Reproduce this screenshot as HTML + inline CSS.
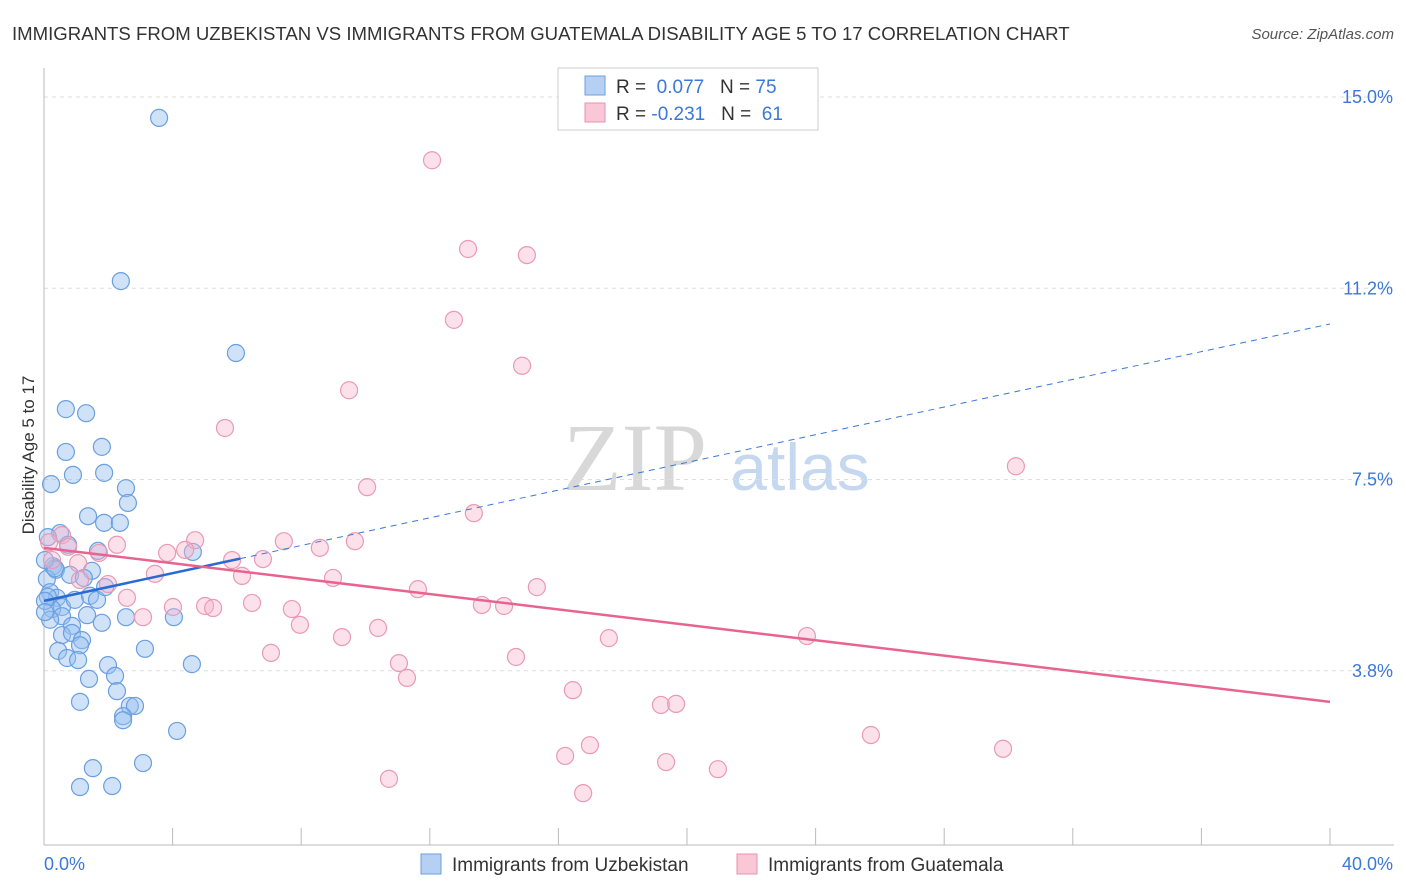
<!DOCTYPE html>
<html><head><meta charset="utf-8"><style>
body{margin:0;background:#fff;font-family:"Liberation Sans",sans-serif}
svg{display:block}
</style></head><body>
<svg id="c" width="1406" height="892" xmlns="http://www.w3.org/2000/svg">
<text x="12" y="40" font-size="18.6" fill="#333">IMMIGRANTS FROM UZBEKISTAN VS IMMIGRANTS FROM GUATEMALA DISABILITY AGE 5 TO 17 CORRELATION CHART</text>
<text x="1394" y="39" font-size="15" fill="#555" font-style="italic" text-anchor="end">Source: ZipAtlas.com</text>
<text x="635" y="490" font-size="96" fill="#d8d8d8" font-family="Liberation Serif,serif" text-anchor="middle">ZIP</text>
<text x="800" y="490" font-size="66" fill="#c5d8f0" text-anchor="middle">atlas</text>
<text transform="translate(34,455) rotate(-90)" font-size="17" fill="#333" text-anchor="middle">Disability Age 5 to 17</text>
<g id="grid"></g><g id="axes"></g><g id="pts"></g><g id="trend"></g>
<g>
<rect x="558" y="68" width="260" height="62" fill="#fff" stroke="#ccc"/>
<rect x="585" y="76" width="20" height="19" fill="#b5d0f3" stroke="#6a9fe0"/>
<rect x="585" y="103" width="20" height="19" fill="#f9c7d6" stroke="#e890ad"/>
<text x="616" y="93" font-size="19" fill="#333">R = <tspan fill="#3b78d8">&#160;0.077</tspan>&#160;&#160;&#160;N = <tspan fill="#3b78d8">75</tspan></text>
<text x="616" y="120" font-size="19" fill="#333">R = <tspan fill="#3b78d8">-0.231</tspan>&#160;&#160;&#160;N = <tspan fill="#3b78d8">&#160;61</tspan></text>
</g>
<g>
<rect x="421" y="854" width="20" height="20" fill="#b5d0f3" stroke="#6a9fe0"/>
<text x="452" y="871" font-size="19" fill="#333">Immigrants from Uzbekistan</text>
<rect x="737" y="854" width="20" height="20" fill="#f9c7d6" stroke="#e890ad"/>
<text x="768" y="871" font-size="19" fill="#333">Immigrants from Guatemala</text>
</g>
</svg>
<script>
const blueX=[3.58,2.39,5.97,0.68,1.31,0.68,1.80,0.90,1.87,0.22,2.55,2.61,1.37,1.87,2.36,0.50,0.12,1.68,4.63,0.75,0.28,0.37,0.81,1.49,1.24,0.09,0.19,0.40,0.56,0.96,1.43,1.65,0.25,0.12,1.90,2.55,4.04,0.56,1.34,0.19,1.80,0.87,0.56,0.87,1.18,1.12,0.44,0.72,1.06,3.14,4.60,1.99,2.21,1.40,2.27,1.12,2.67,2.83,2.46,2.46,4.14,3.08,1.52,1.12,2.12,0.03,0.03,0.34,0.03];
const blueY=[14.59,11.39,9.98,8.88,8.80,8.04,8.14,7.59,7.63,7.41,7.33,7.04,6.78,6.65,6.65,6.45,6.37,6.10,6.08,6.22,5.80,5.73,5.63,5.71,5.57,5.55,5.29,5.18,5.00,5.14,5.22,5.14,4.96,5.20,5.39,4.80,4.80,4.82,4.84,4.75,4.69,4.63,4.45,4.49,4.35,4.25,4.14,4.00,3.96,4.18,3.88,3.86,3.65,3.59,3.35,3.14,3.06,3.06,2.86,2.78,2.57,1.94,1.84,1.47,1.49,5.12,4.90,5.76,5.92];
const pinkX=[12.07,13.19,15.02,12.75,14.87,9.49,5.63,30.23,10.05,13.37,0.56,0.16,0.75,2.27,1.71,4.70,3.83,4.39,9.67,7.46,8.58,5.85,6.81,6.16,3.45,1.99,8.99,15.33,11.63,2.58,4.01,5.01,5.26,6.47,7.71,13.62,14.31,3.08,7.96,9.27,10.39,17.57,23.73,7.06,11.04,14.68,11.29,16.45,19.19,19.66,25.72,16.98,16.21,19.35,29.83,20.96,10.73,16.77,0.25,1.06,1.12];
const pinkY=[13.76,12.02,11.90,10.63,9.73,9.25,8.51,7.76,7.35,6.84,6.41,6.27,6.18,6.22,6.06,6.31,6.06,6.12,6.29,6.29,6.16,5.92,5.94,5.61,5.65,5.45,5.57,5.39,5.35,5.18,5.00,5.02,4.98,5.08,4.96,5.04,5.02,4.80,4.65,4.41,4.59,4.39,4.43,4.10,3.90,4.02,3.61,3.37,3.08,3.10,2.49,2.29,2.08,1.96,2.22,1.82,1.63,1.35,5.92,5.86,5.53];
const yTicks=[15.0,11.25,7.5,3.75];
const yTickLabels=["15.0%","11.2%","7.5%","3.8%"];
const xTicks=[0,4,8,12,16,20,24,28,32,36,40];
const blueTrend=[5.12,10.55];
const pinkTrend=[6.16,3.14];
const blueSolidEnd=6.1;
const X=v=>44+v/40*1286, Y=v=>862-v*51;
const NS="http://www.w3.org/2000/svg";
function mk(p,t,a){const e=document.createElementNS(NS,t);for(const k in a)e.setAttribute(k,a[k]);p.appendChild(e);return e;}
const grid=document.getElementById('grid'),axes=document.getElementById('axes'),pts=document.getElementById('pts'),tr=document.getElementById('trend');
yTicks.forEach((t,i)=>{
 const l=mk(grid,'line',{x1:44,x2:1394,y1:Y(t),y2:Y(t),stroke:'#ddd','stroke-dasharray':'4,4'});
 
 
 const tx=mk(axes,'text',{x:1393,y:Y(t)+6,'font-size':18,fill:'#3b78d8','text-anchor':'end'});tx.textContent=yTickLabels[i];
 
 
});
const yl=mk(axes,'line',{x1:44,x2:44,y1:68,y2:845,stroke:'#bbb'});


const xl=mk(axes,'line',{x1:44,x2:1394,y1:845,y2:845,stroke:'#bbb'});


xTicks.forEach(t=>{const l=mk(axes,'line',{x1:X(t),x2:X(t),y1:828,y2:845,stroke:'#bbb'});
 
 });
const x0=mk(axes,'text',{x:44,y:870,'font-size':18,fill:'#3b78d8'});x0.textContent='0.0%';


const x1=mk(axes,'text',{x:1393,y:870,'font-size':18,fill:'#3b78d8','text-anchor':'end'});x1.textContent='40.0%';


blueX.forEach((x,i)=>{const c=mk(pts,'circle',{cx:X(x),cy:Y(blueY[i]),r:8.5,fill:'rgba(150,190,240,0.45)',stroke:'#6a9fe0','stroke-width':1.2});
 
 });
pinkX.forEach((x,i)=>{const c=mk(pts,'circle',{cx:X(x),cy:Y(pinkY[i]),r:8.5,fill:'rgba(248,180,202,0.4)',stroke:'#e99ab5','stroke-width':1.2});
 
 });
const bAt=v=>blueTrend[0]+(blueTrend[1]-blueTrend[0])*v/40;
const bd=mk(tr,'line',{x1:X(blueSolidEnd),y1:Y(bAt(blueSolidEnd)),x2:X(40),y2:Y(blueTrend[1]),stroke:'#3b78d8','stroke-width':1,'stroke-dasharray':'6,5'});


const bs=mk(tr,'line',{x1:X(0),y1:Y(blueTrend[0]),x2:X(blueSolidEnd),y2:Y(bAt(blueSolidEnd)),stroke:'#2a6ad4','stroke-width':2.5});


const ps=mk(tr,'line',{x1:X(0),y1:Y(pinkTrend[0]),x2:X(40),y2:Y(pinkTrend[1]),stroke:'#e8648f','stroke-width':2.5});


</script>
</body></html>
